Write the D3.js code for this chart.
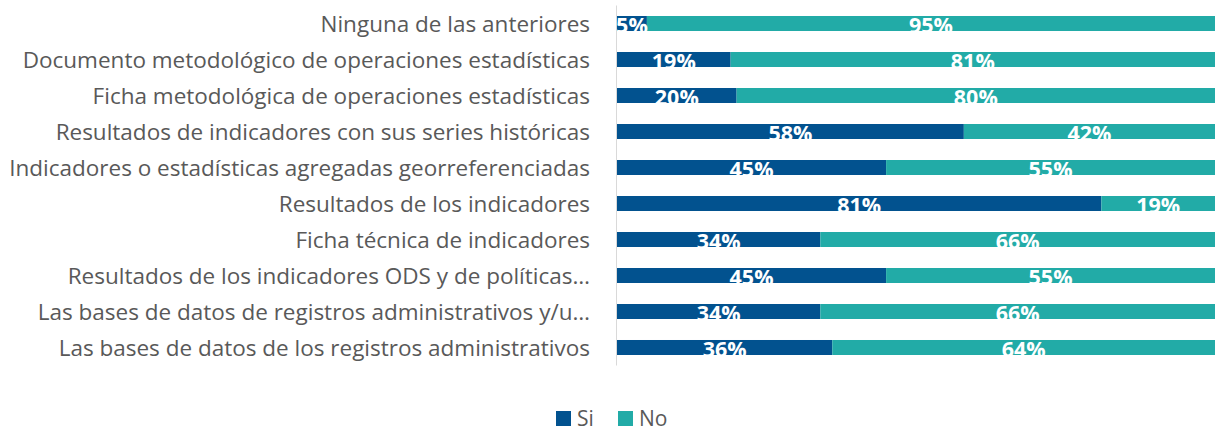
<!DOCTYPE html>
<html>
<head>
<meta charset="utf-8">
<script src="https://cdn.jsdelivr.net/npm/d3@7"></script>
<style>
  body { margin: 0; background: #fff; }
  svg { display: block; }
</style>
</head>
<body>
<div id="chart"></div>
<script>
const width = 1217;
const height = 433;

const categories = [
  'Ninguna de las anteriores',
  'Documento metodológico de operaciones estadísticas',
  'Ficha metodológica de operaciones estadísticas',
  'Resultados de indicadores con sus series históricas',
  'Indicadores o estadísticas agregadas georreferenciadas',
  'Resultados de los indicadores',
  'Ficha técnica de indicadores ',
  'Resultados de los indicadores ODS y de políticas…',
  'Las bases de datos de registros administrativos y/u…',
  'Las bases de datos de los registros administrativos',
];
const siValues = [5, 19, 20, 58, 45, 81, 34, 45, 34, 36];
const noValues = [95, 81, 80, 42, 55, 19, 66, 55, 66, 64];
const seriesNames = ['Si', 'No'];
const colors = ['#02528f', '#22aba7'];

const margin = {top: 5.5, right: 2, bottom: 67.5, left: 617};

const rows = categories.map((c, i)=>({category: c, Si: siValues[i], No: noValues[i]}));
const stacked = d3.stack().keys(seriesNames)(rows);

const x = d3.scaleLinear()
  .domain([0, 100])
  .range([margin.left, width - margin.right]);

const y = d3.scaleBand()
  .domain(categories)
  .range([margin.top, height - margin.bottom])
  .paddingInner(0.5833)
  .paddingOuter(0.2917);

const color = d3.scaleOrdinal().domain(seriesNames).range(colors);

const svg = d3.select('#chart').append('svg')
  .attr('width', width)
  .attr('height', height)
  .style('font-family', '"Open Sans", sans-serif');

const layer = svg.append('g')
  .selectAll('g')
  .data(stacked)
  .join('g')
  .attr('fill', (d)=>color(d.key));

layer.selectAll('rect')
  .data((d)=>d)
  .join('rect')
  .attr('x', (d)=>x(d[0]))
  .attr('y', (d)=>y(d.data.category))
  .attr('width', (d)=>x(d[1]) - x(d[0]))
  .attr('height', y.bandwidth());

// value labels, white and hanging below the bar like the original
svg.append('g')
  .selectAll('g')
  .data(stacked)
  .join('g')
  .selectAll('text')
  .data((d)=>d)
  .join('text')
  .attr('x', (d)=>(x(d[0]) + x(d[1])) / 2)
  .attr('y', (d)=>y(d.data.category) + y.bandwidth() + 2)
  .attr('text-anchor', 'middle')
  .attr('fill', '#fff')
  .attr('font-weight', 'bold')
  .attr('font-size', '21.5px')
  .text((d)=>`${d[1] - d[0]}%`);

// category axis
svg.append('line')
  .attr('x1', margin.left - 0.5)
  .attr('x2', margin.left - 0.5)
  .attr('y1', margin.top)
  .attr('y2', height - margin.bottom)
  .attr('stroke', '#d9d9d9');

svg.append('g')
  .selectAll('text')
  .data(categories)
  .join('text')
  .attr('x', margin.left - 27)
  .attr('y', (d)=>y(d) + y.bandwidth() / 2 + 1)
  .attr('dy', '0.35em')
  .attr('text-anchor', 'end')
  .attr('fill', '#595959')
  .attr('font-size', '22.5px')
  .text((d)=>d);

// legend
const legend = svg.append('g')
  .selectAll('g')
  .data(seriesNames)
  .join('g')
  .attr('transform', (d, i)=>`translate(${i === 0 ? 556 : 618},411)`);

legend.append('rect')
  .attr('width', 15)
  .attr('height', 15)
  .attr('fill', (d)=>color(d));

legend.append('text')
  .attr('x', 21)
  .attr('y', 8)
  .attr('dy', '0.35em')
  .attr('fill', '#595959')
  .attr('font-size', '21px')
  .text((d)=>d);
</script>
</body>
</html>
